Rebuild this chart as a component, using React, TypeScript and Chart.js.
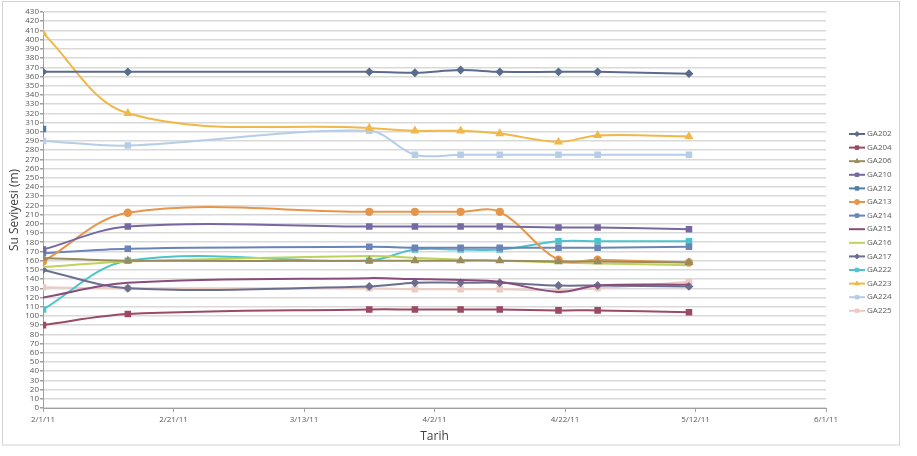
import React, { useEffect, useRef } from "react";
import { Chart, registerables } from "chart.js";
import { drawPoint } from "chart.js/helpers";

Chart.register(...registerables);

// ---- data ----
const axisStartDate = "2011-02-01";
const sampleDates = [
  "2011-02-01", "2011-02-14", "2011-03-23", "2011-03-30", "2011-04-06",
  "2011-04-12", "2011-04-21", "2011-04-27", "2011-05-11",
];
const xTickLabels = ["2/1/11", "2/21/11", "3/13/11", "4/2/11", "4/22/11", "5/12/11", "6/1/11"];
const xTickStepDays = 20;
const yMin = 0;
const yMax = 430;
const yStep = 10;

const seriesNames = [
  "GA202", "GA204", "GA206", "GA210", "GA212", "GA213", "GA214",
  "GA215", "GA216", "GA217", "GA222", "GA223", "GA224", "GA225",
];

const GA202 = [365, 365, 365, 364, 367, 365, 365, 365, 363];
const GA204 = [90, 102, 107, 107, 107, 107, 106, 106, 104];
const GA206 = [163, 160, 160, 160, 160, 160, 159, 159, 158];
const GA210 = [172, 197, 197, 197, 197, 197, 196, 196, 194];
const GA212 = [303, null, null, null, null, null, null, null, null];
const GA213 = [159, 212, 213, 213, 213, 213, 161, 161, 158];
const GA214 = [168, 173, 175, 174, 174, 174, 174, 174, 175];
const GA215 = [120, 136, 141, 140, 139, 137, 126, 133, 134];
const GA216 = [153, 159, 165, 163, 161, 160, 158, 157, 155];
const GA217 = [150, 130, 132, 136, 136, 136, 133, 133, 132];
const GA222 = [107, 160, 160, 172, 172, 172, 181, 181, 181];
const GA223 = [407, 320, 304, 301, 301, 298, 289, 296, 295];
const GA224 = [290, 285, 301, 275, 275, 275, 275, 275, 275];
const GA225 = [131, 130, 130, 129, 129, 129, 128, 130, 137];

const seriesValues = [
  GA202, GA204, GA206, GA210, GA212, GA213, GA214,
  GA215, GA216, GA217, GA222, GA223, GA224, GA225,
];

// ---- styles ----
const seriesColors = [
  "#5b6b8c", "#9b4a63", "#9a8c5e", "#7768a2", "#4f7fa3", "#e6954a", "#6a84b8",
  "#8a4c7c", "#bcd35c", "#6b6f8f", "#4ec3cc", "#f0b848", "#b5cde6", "#ebcbc2",
];
const seriesMarkers: (string | false)[] = [
  "rectRot", "rect", "triangle", "rect", "rect", "circle", "rect",
  false, false, "rectRot", "rect", "triangle", "rect", "rect",
];

const FONT = "'Open Sans', 'Liberation Sans', sans-serif";

const dayOffset = (d: string) =>
  Math.round((Date.parse(d) - Date.parse(axisStartDate)) / 86400000);

const frame = {
  id: "frame",
  beforeDraw(chart: any) {
    const ctx = chart.ctx;
    ctx.save();
    ctx.fillStyle = "#ffffff";
    ctx.fillRect(0, 0, chart.width, chart.height);
    ctx.strokeStyle = "#d3d3d3";
    ctx.lineWidth = 1;
    ctx.strokeRect(2.5, 1.5, 897, 443.5);
    ctx.restore();
  },
};

const excelLegend = {
  id: "excelLegend",
  afterDraw(chart: any) {
    const ctx = chart.ctx;
    ctx.save();
    const x0 = 849;
    const top = 134;
    const gap = 13.6;
    chart.data.datasets.forEach((ds: any, i: number) => {
      const y = top + i * gap;
      ctx.strokeStyle = ds.borderColor;
      ctx.lineWidth = 2;
      ctx.beginPath();
      ctx.moveTo(x0, y);
      ctx.lineTo(x0 + 16, y);
      ctx.stroke();
      if (ds.pointStyle) {
        ctx.fillStyle = ds.borderColor;
        ctx.strokeStyle = ds.borderColor;
        ctx.lineWidth = 1;
        drawPoint(ctx, { pointStyle: ds.pointStyle, radius: 2.5, rotation: 0, borderWidth: 1 }, x0 + 8, y);
      }
      ctx.fillStyle = "#595959";
      ctx.font = `8px ${FONT}`;
      ctx.textBaseline = "middle";
      ctx.textAlign = "left";
      ctx.fillText(ds.label, x0 + 18, y);
    });
    ctx.restore();
  },
};

export default function App() {
  const ref = useRef<HTMLCanvasElement | null>(null);

  useEffect(() => {
    document.body.style.margin = "0";
    const xs = sampleDates.map(dayOffset);
    const datasets = seriesNames.map((name, i) => ({
      label: name,
      data: seriesValues[i].map((v, j) => ({ x: xs[j], y: v })),
      borderColor: seriesColors[i],
      backgroundColor: seriesColors[i],
      pointBackgroundColor: seriesColors[i],
      pointBorderColor: seriesColors[i],
      pointStyle: seriesMarkers[i],
      pointRadius: seriesMarkers[i] ? (seriesMarkers[i] === "rectRot" ? 3 : 3.2) : 0,
      borderWidth: 2,
      tension: 0.35,
      spanGaps: false,
    }));
    const totalDays = (xTickLabels.length - 1) * xTickStepDays;
    const chart = new Chart(ref.current as HTMLCanvasElement, {
      type: "line",
      data: { datasets } as any,
      options: {
        animation: false,
        responsive: false,
        devicePixelRatio: 1,
        layout: { padding: { left: 0, right: 91, top: 12, bottom: 0 } },
        plugins: { legend: { display: false }, tooltip: { enabled: false } },
        scales: {
          x: {
            type: "linear",
            min: 0,
            max: totalDays,
            afterFit: (s: any) => { s.height = 48; },
            ticks: {
              stepSize: xTickStepDays,
              autoSkip: false,
              maxRotation: 0,
              padding: 3,
              color: "#595959",
              font: { size: 8, family: FONT },
              callback: (v: any) => xTickLabels[Math.round(Number(v) / xTickStepDays)] ?? "",
            },
            grid: { drawOnChartArea: false, drawTicks: true, tickLength: 4, tickColor: "#a0a0a0" },
            border: { color: "#a0a0a0" },
            title: {
              display: true,
              text: "Tarih",
              color: "#404040",
              font: { size: 12, family: FONT },
              padding: { top: 0, bottom: 12 },
            },
          },
          y: {
            min: yMin,
            max: yMax,
            afterFit: (s: any) => { s.width = 43; },
            ticks: {
              stepSize: yStep,
              autoSkip: false,
              padding: 1,
              color: "#595959",
              font: { size: 8, family: FONT },
            },
            grid: { color: "#d9d9d9", lineWidth: 1.5, tickLength: 3, tickColor: "#a0a0a0" },
            border: { color: "#a0a0a0" },
            title: {
              display: true,
              text: "Su Seviyesi (m)",
              color: "#404040",
              font: { size: 12, family: FONT },
              padding: { top: 7, bottom: 0 },
            },
          },
        },
      },
      plugins: [frame, excelLegend],
    } as any);
    return () => chart.destroy();
  }, []);

  return <canvas ref={ref} width={917} height={456} style={{ display: "block" }} />;
}
